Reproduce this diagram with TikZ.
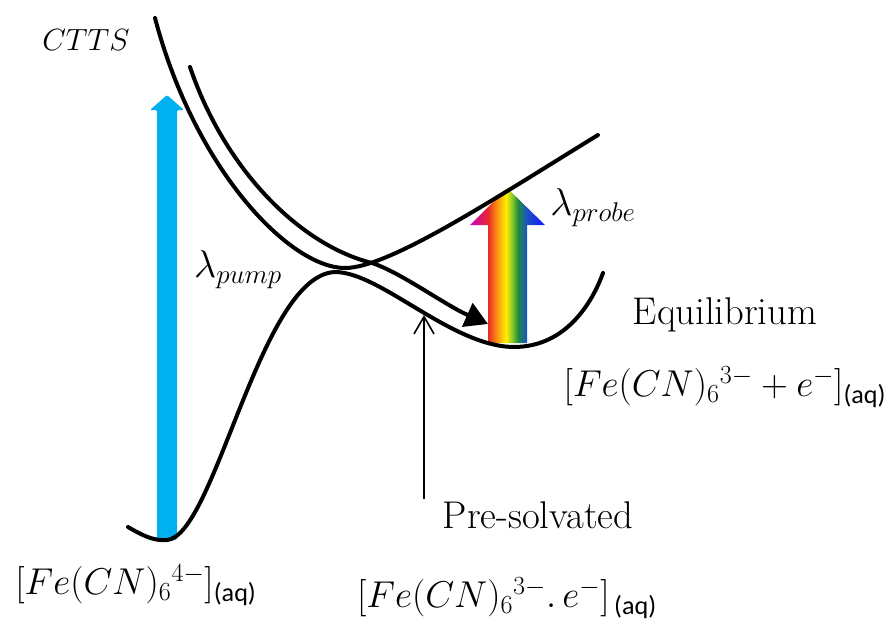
\documentclass[tikz,border=0pt]{standalone}
\usepackage{fix-cm}
\usepackage{amsmath}
\usepackage{fontspec}
\newfontfamily\aqfont{Carlito}
\usetikzlibrary{arrows.meta}
\definecolor{pumpblue}{RGB}{0,176,240}
\definecolor{rbmag}{RGB}{200,0,200}
\definecolor{rbred}{RGB}{232,40,40}
\definecolor{rborange}{RGB}{250,130,20}
\definecolor{rbyellow}{RGB}{255,240,0}
\definecolor{rblime}{RGB}{140,200,40}
\definecolor{rbgreen}{RGB}{30,140,60}
\definecolor{rbblue}{RGB}{30,80,200}
\definecolor{rbviolet}{RGB}{20,20,255}
\pgfdeclarehorizontalshading{rainbow}{100bp}{color(0bp)=(rbmag); color(25bp)=(rbmag);
  color(37bp)=(rbred); color(42bp)=(rborange); color(49bp)=(rbyellow); color(53bp)=(rblime);
  color(57bp)=(rbgreen); color(63bp)=(rbblue); color(75bp)=(rbviolet); color(100bp)=(rbviolet)}
\newcommand{\aq}{\text{\aqfont(aq)}}
\tikzset{
  pes/.style={line width=3pt, line cap=round},
  lbl/.style={font=\fontsize{29}{34}\selectfont, inner sep=2pt},
  frm/.style={font=\fontsize{28}{33}\selectfont, inner sep=2pt}
}
\begin{document}
\begin{tikzpicture}[x=0.75pt,y=-0.75pt]
\useasboundingbox (0,0) rectangle (892,628);
% pump and probe arrows
\fill[pumpblue, rounded corners=1pt] (157,540) -- (157,110) -- (150,110) -- (167,95) -- (184,110) -- (177,110) -- (177,540) -- cycle;
\shade[shading=rainbow] (488,343) -- (488,225) -- (470,225) -- (507,188) -- (545,225) -- (527,225) -- (527,343) -- cycle;
% potential curves
\draw[pes] (155,18) .. controls (195,170) and (290,268) .. (345,268) .. controls (390,268) and (500,195) .. (598,135);
\draw[pes] (128,527) .. controls (145,537) and (155,541) .. (167,540) .. controls (215,536) and (260,275) .. (335,272)
  .. controls (380,272) and (450,345) .. (512,347) .. controls (570,348) and (595,295) .. (603,273);
\draw[pes, -{Triangle[length=17pt,width=19pt]}] (190,67) .. controls (225,170) and (300,245) .. (372,263)
  .. controls (400,272) and (445,305) .. (488,324);
% labels
\node[lbl, font=\fontsize{23}{28}\selectfont] (ctts) at (86,40) {$CTTS$};
\node[lbl] (pump) at (238,270) {$\lambda_{pump}$};
\node[lbl] (probe) at (593,208) {$\lambda_{probe}$};
\node[lbl] (equil) at (725,315) {Equilibrium};
\node[frm] (prod) at (725,387) {$[Fe(CN)_6{}^{3-}+e^-]_{\aq}$};
\node[lbl] (presolv) at (538,515) {Pre-solvated};
\node[frm] (inter) at (507,598) {$[Fe(CN)_6{}^{3-}.\,e^-]_{\,\aq}$};
\node[frm] (react) at (136,585) {$[Fe(CN)_6{}^{4-}]_{\aq}$};
\coordinate (trap) at (424,315);
\draw[line width=1.2pt, -{Straight Barb[length=13pt,width=15pt]}] (presolv.north west -| trap) -- (trap);
\end{tikzpicture}
\end{document}
